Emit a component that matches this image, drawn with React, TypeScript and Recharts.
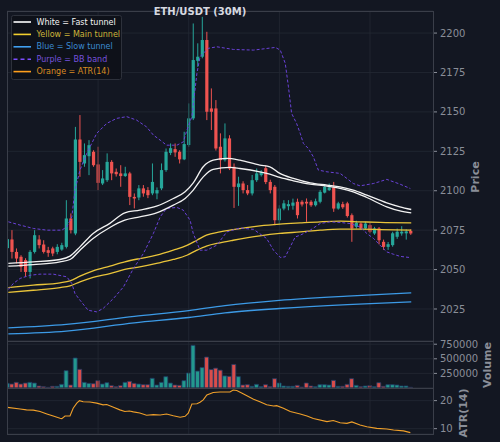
import React from 'react';
import { ComposedChart, Bar, Line, XAxis, YAxis, CartesianGrid, ReferenceLine, Cell } from 'recharts';

// candle data (30m ETH/USDT)
const opens = [
  2063.6, 2069.1, 2061.2, 2058.1, 2056.0, 2048.5, 2061.2, 2069.1, 2065.9, 2062.3,
  2063.4, 2061.2, 2062.7, 2064.4, 2082.4, 2072.9, 2132.5, 2117.3, 2121.9, 2124.7,
  2116.7, 2104.6, 2106.7, 2118.3, 2112.0, 2111.0, 2109.3, 2111.0, 2096.1, 2095.7,
  2101.5, 2100.4, 2098.3, 2098.3, 2101.5, 2113.1, 2124.0, 2126.4, 2124.7, 2119.9,
  2129.0, 2145.9, 2182.4, 2185.0, 2195.6, 2152.2, 2152.2, 2127.9, 2119.4, 2133.2,
  2115.2, 2102.3, 2104.6, 2100.4, 2098.3, 2106.7, 2109.9, 2114.3, 2105.6, 2102.5,
  2081.3, 2088.7, 2090.2, 2090.5, 2093.0, 2093.0, 2093.0, 2093.0, 2090.8, 2093.0,
  2098.8, 2100.4, 2102.1, 2088.7, 2091.5, 2092.0, 2084.5, 2077.1, 2079.2, 2076.1,
  2078.2, 2072.9, 2076.1, 2067.6, 2064.4, 2065.5, 2070.8, 2072.9, 2073.0, 2074.5,
];
const highs = [
  2073.1, 2075.0, 2063.4, 2059.1, 2057.2, 2062.3, 2075.0, 2071.8, 2068.6, 2064.4,
  2064.5, 2066.1, 2067.0, 2094.0, 2085.6, 2140.5, 2148.0, 2130.0, 2132.1, 2125.7,
  2127.9, 2113.1, 2123.7, 2119.4, 2114.1, 2116.2, 2115.2, 2112.0, 2098.3, 2103.6,
  2103.6, 2102.3, 2117.3, 2102.1, 2117.3, 2126.8, 2130.0, 2130.0, 2125.7, 2137.4,
  2155.4, 2206.1, 2193.5, 2210.3, 2200.8, 2164.9, 2157.5, 2136.4, 2142.7, 2135.2,
  2117.3, 2108.9, 2106.0, 2103.6, 2110.0, 2114.1, 2113.1, 2116.2, 2107.0, 2103.6,
  2090.8, 2094.0, 2094.0, 2095.0, 2095.0, 2094.0, 2095.1, 2094.0, 2095.0, 2100.4,
  2103.6, 2104.6, 2105.6, 2093.0, 2093.0, 2093.0, 2085.6, 2081.0, 2080.0, 2080.3,
  2079.5, 2077.1, 2077.0, 2069.0, 2067.5, 2074.0, 2076.0, 2077.5, 2075.5, 2075.5,
];
const lows = [
  2060.4, 2057.0, 2053.9, 2048.5, 2045.4, 2044.4, 2060.2, 2063.4, 2060.2, 2058.1,
  2058.5, 2059.7, 2061.9, 2063.4, 2072.9, 2071.8, 2108.8, 2115.2, 2109.9, 2115.2,
  2100.4, 2103.6, 2105.6, 2106.7, 2109.0, 2102.5, 2108.8, 2090.9, 2088.8, 2094.0,
  2096.2, 2095.3, 2097.2, 2094.6, 2100.4, 2112.0, 2122.6, 2121.5, 2117.3, 2119.4,
  2127.9, 2144.8, 2178.6, 2184.0, 2144.8, 2138.5, 2125.5, 2111.0, 2118.5, 2113.1,
  2089.1, 2090.4, 2098.3, 2097.2, 2097.0, 2105.6, 2109.0, 2104.2, 2098.3, 2078.2,
  2078.2, 2087.6, 2087.6, 2088.0, 2082.4, 2090.0, 2080.3, 2089.8, 2090.0, 2092.0,
  2098.3, 2099.8, 2086.6, 2088.0, 2088.5, 2083.0, 2067.6, 2076.0, 2075.5, 2075.5,
  2073.0, 2072.0, 2066.0, 2062.5, 2062.5, 2064.5, 2069.5, 2071.5, 2069.0, 2072.0,
];
const closes = [
  2069.3, 2061.2, 2057.0, 2051.7, 2048.5, 2061.2, 2071.8, 2065.5, 2061.2, 2060.6,
  2060.2, 2064.4, 2065.5, 2082.4, 2075.0, 2132.5, 2118.3, 2122.6, 2128.9, 2116.2,
  2105.0, 2107.8, 2118.3, 2111.0, 2110.5, 2109.3, 2111.0, 2096.1, 2095.1, 2101.5,
  2098.3, 2097.2, 2105.6, 2100.4, 2113.1, 2124.7, 2127.0, 2124.3, 2119.9, 2129.6,
  2145.9, 2182.9, 2185.0, 2195.6, 2150.1, 2150.1, 2126.8, 2119.4, 2133.2, 2114.1,
  2102.5, 2104.6, 2100.4, 2098.3, 2106.7, 2111.0, 2112.0, 2105.5, 2100.4, 2081.3,
  2088.7, 2092.0, 2091.5, 2092.5, 2084.5, 2091.3, 2091.9, 2090.8, 2093.3, 2099.3,
  2102.5, 2102.1, 2088.7, 2092.0, 2089.5, 2084.0, 2076.1, 2079.7, 2076.1, 2079.2,
  2074.0, 2076.1, 2068.6, 2064.4, 2066.1, 2073.0, 2074.0, 2074.0, 2074.2, 2072.9,
];
const volumes = [
  80000, 68000, 97000, 68000, 85000, 97000, 85000, 34000, 23000, 12000,
  29000, 29000, 63000, 297000, 51000, 514000, 320000, 97000, 80000, 74000,
  126000, 68000, 91000, 40000, 23000, 40000, 97000, 114000, 80000, 68000,
  57000, 57000, 166000, 51000, 97000, 194000, 85000, 51000, 46000, 126000,
  257000, 730000, 290000, 350000, 530000, 316000, 340000, 306000, 207000, 200000,
  404000, 195000, 51000, 57000, 29000, 63000, 23000, 57000, 23000, 160000,
  86000, 34000, 29000, 29000, 46000, 17000, 86000, 34000, 23000, 57000,
  57000, 51000, 131000, 29000, 29000, 63000, 160000, 46000, 23000, 34000,
  40000, 23000, 91000, 29000, 57000, 57000, 51000, 34000, 34000, 12000,
];

// indicator lines as [candle index, value]
const fastUpper = [
  [0.2, 2053.9], [5.7, 2054.9], [11.6, 2056.4], [13.8, 2058.5], [16, 2064.4], [18.9, 2072.9],
  [22.6, 2079.3], [25.9, 2086.0], [29.2, 2087.7], [32.9, 2090.2], [36.6, 2095.1], [39.2, 2099.3],
  [41, 2105.0], [43.2, 2115.2], [45.4, 2119.4], [48.4, 2120.5], [51.3, 2119.4], [55.7, 2116.2],
  [57.9, 2115.2], [60.1, 2111.0], [63.1, 2107.8], [66.8, 2105.0], [70.5, 2103.6], [73.4, 2102.5],
  [76.3, 2100.4], [79.3, 2097.2], [83.7, 2092.3], [86.6, 2089.8], [89.1, 2088.1],
];
const fastLower = [
  [0.2, 2052.2], [5.7, 2053.2], [11.6, 2054.9], [13.8, 2056.4], [16, 2062.3], [18.9, 2069.7],
  [22.6, 2076.7], [25.9, 2081.3], [29.2, 2083.4], [32.9, 2086.0], [36.6, 2090.9], [39.2, 2095.1],
  [41, 2100.4], [43.2, 2108.8], [45.4, 2113.5], [49.1, 2114.8], [51.3, 2114.1], [55.7, 2112.0],
  [57.9, 2110.5], [60.1, 2108.4], [63.1, 2106.3], [66.8, 2104.2], [70.5, 2102.9], [73.4, 2101.5],
  [76.3, 2099.3], [79.3, 2095.7], [83.7, 2089.8], [86.6, 2087.2], [89.1, 2086.0],
];
const mainUpper = [
  [0.2, 2038.6], [5.7, 2040.1], [11.6, 2041.6], [13.8, 2042.8], [16, 2045.8], [18.9, 2049.2],
  [22.6, 2052.2], [25.9, 2054.9], [29.2, 2057.0], [32.9, 2059.1], [36.6, 2062.3], [39.6, 2065.3],
  [41.8, 2068.6], [43.9, 2071.8], [46.9, 2073.9], [49.8, 2075.4], [55.7, 2077.7], [60.1, 2078.8],
  [64.6, 2079.6], [69, 2080.3], [73.4, 2080.7], [77.8, 2080.3], [82.2, 2079.9], [89.1, 2079.6],
];
const mainLower = [
  [0.2, 2035.5], [5.7, 2036.9], [11.6, 2038.6], [13.8, 2039.7], [16, 2042.2], [18.9, 2045.0],
  [22.6, 2047.5], [25.9, 2050.1], [29.2, 2051.7], [32.9, 2053.9], [36.6, 2056.4], [39.6, 2059.1],
  [41.8, 2062.3], [43.9, 2064.9], [46.9, 2067.0], [49.8, 2068.6], [55.7, 2071.4], [60.1, 2072.9],
  [64.6, 2073.9], [69, 2075.0], [73.4, 2075.6], [77.8, 2075.6], [82.2, 2075.4], [89.1, 2075.0],
];
const slowUpper = [
  [0.2, 2013.0], [13, 2015.2], [28, 2020.3], [40, 2024.0], [48, 2027.2], [60, 2030.5], [75, 2033.2], [89.1, 2035.2],
];
const slowLower = [
  [0.2, 2009.2], [13, 2011.0], [28, 2016.2], [40, 2019.6], [48, 2022.5], [60, 2025.3], [75, 2027.8], [89.1, 2029.5],
];
const bbUpper = [
  [0.2, 2080.3], [2.8, 2078.2], [5.7, 2076.1], [8.7, 2075.0], [12, 2075.0], [13.1, 2077.1], [14.2, 2083.4],
  [14.9, 2100.4], [16, 2113.1], [17.5, 2123.7], [19.7, 2136.4], [21.9, 2142.7], [24.1, 2145.9], [26.3, 2147.0],
  [28.5, 2144.8], [30.7, 2140.5], [32.2, 2135.3], [33.7, 2132.1], [35.1, 2128.9], [37.4, 2128.9], [38.8, 2131.0],
  [39.6, 2138.4], [40.7, 2147.0], [41.8, 2174.4], [42.5, 2185.0], [44.3, 2190.3], [46.2, 2191.3], [49.9, 2189.6],
  [54.3, 2189.2], [59.1, 2190.9], [60.2, 2189.2], [61.3, 2180.8], [62, 2165.9], [62.7, 2149.1], [63.8, 2142.7],
  [64.6, 2136.4], [65.3, 2130.0], [66.4, 2126.8], [67.5, 2121.5], [68.6, 2113.1], [70.5, 2112.0], [73.4, 2111.0],
  [74.9, 2107.8], [76.3, 2104.6], [77.8, 2103.1], [80.8, 2104.6], [83.7, 2107.2], [86.6, 2104.2], [88.9, 2101.4],
];
const bbLower = [
  [0.2, 2037.4], [1.3, 2041.2], [2.8, 2044.4], [5, 2046.4], [7.2, 2047.1], [10.1, 2047.1], [13.1, 2045.4],
  [14.2, 2041.2], [14.9, 2034.8], [16, 2030.6], [17.8, 2024.2], [19.7, 2023.2], [21.1, 2025.3], [23.4, 2031.7],
  [25.6, 2039.0], [27.8, 2050.7], [30, 2060.2], [32.2, 2072.9], [33.7, 2083.4], [35.1, 2088.8], [37.4, 2089.4],
  [38.8, 2087.7], [40.3, 2081.3], [41, 2072.9], [42.5, 2062.3], [44, 2062.3], [46.2, 2065.5], [48.4, 2073.9],
  [51.3, 2076.4], [54.3, 2075.5], [57.2, 2069.7], [58.7, 2062.3], [60.2, 2057.7], [61.3, 2058.1], [62.4, 2064.4],
  [63.5, 2070.7], [64.6, 2071.8], [66.8, 2075.0], [69, 2079.2], [71.2, 2080.3], [73.4, 2079.9], [75.6, 2079.2],
  [77.8, 2077.1], [79.3, 2072.9], [80.8, 2069.7], [82.2, 2065.5], [83.7, 2061.2], [85.2, 2059.7], [86.6, 2058.4],
  [88.9, 2057.6],
];
const atr = [
  [0, 17.6], [2.8, 17.0], [4.2, 16.7], [5.7, 16.6], [7.2, 16.1], [8.7, 15.25], [10.1, 14.5], [11.6, 13.7],
  [12, 13.6], [12.7, 14.5], [13.8, 14.5], [14.5, 17.3], [15.3, 19.1], [15.9, 20.0], [16.7, 19.6], [18.2, 19.5],
  [19.7, 19.1], [21.1, 18.5], [21.9, 18.6], [23.4, 17.6], [24.8, 16.7], [25.9, 16.1], [26.9, 16.3], [27.8, 16.0],
  [29.2, 15.6], [30.7, 14.8], [32.2, 15.0], [33.7, 14.9], [35.1, 15.25], [36.6, 14.6], [38.1, 14.1], [39.2, 14.4],
  [39.9, 15.5], [40.7, 18.8], [41.8, 18.9], [42.5, 19.4], [43.2, 20.25], [44, 22.0], [45.4, 22.9], [46.9, 23.1],
  [49.1, 23.1], [49.8, 23.8], [50.6, 23.6], [52.1, 22.4], [54.3, 20.5], [55.7, 19.6], [57.2, 18.5], [58.7, 18.1],
  [59.4, 18.2], [60.9, 17.3], [62.4, 16.1], [64.6, 15.25], [66.1, 14.5], [67.5, 13.6], [70.5, 12.5], [71.9, 12.9],
  [73.4, 12.1], [74.9, 11.9], [76, 12.4], [77.8, 11.3], [79.3, 10.7], [81.5, 10.1], [83.7, 9.9], [85.2, 9.5],
  [87.4, 9.2], [88.9, 8.6],
];

const priceTicks = [2025, 2050, 2075, 2100, 2125, 2150, 2175, 2200];
const volumeTicks = [250000, 500000, 750000];
const atrTicks = [10, 20];
const timeGrid = [20, 40, 60, 80];

const BG = '#131722';
const GRID = '#232834';
const SPINE = '#3a3e49';
const TICK = '#8a8e98';
const UP = '#26a69a';
const DOWN = '#ef5350';
const FONT = 'DejaVu Sans';

const candles = opens.map((o, i) => ({
  i,
  o,
  h: highs[i],
  l: lows[i],
  c: closes[i],
  range: [lows[i], highs[i]],
  v: volumes[i],
}));
const toSeries = (pts: number[][]) => pts.map(([i, v]) => ({ i, v }));

const xDomain = [-0.1, 93.9];

function Candle(props: any) {
  const { x, y, width, height, payload } = props;
  if (!payload) return null;
  const { o, h, l, c } = payload;
  const top = Math.min(y, y + height);
  const bottom = Math.max(y, y + height);
  const ppu = (bottom - top) / (h - l || 1);
  const cx = x + width / 2;
  const yo = top + (h - o) * ppu;
  const yc = top + (h - c) * ppu;
  const color = c >= o ? UP : DOWN;
  const bodyTop = Math.min(yo, yc);
  const bodyH = Math.max(1, Math.abs(yo - yc));
  return (
    <g>
      <line x1={cx} x2={cx} y1={top} y2={bottom} stroke={color} strokeWidth={1} />
      <rect x={cx - 1.6} y={bodyTop} width={3.2} height={bodyH} fill={color} />
    </g>
  );
}

const yAxisProps = {
  orientation: 'right' as const,
  width: 60,
  axisLine: false,
  tickLine: { stroke: TICK },
  tickSize: 4,
  tickMargin: 3,
  tick: { fill: TICK, fontSize: 10, fontFamily: FONT },
  interval: 0 as const,
};

const legendRows = [
  { label: 'White = Fast tunnel', line: '#ffffff', text: '#f4f4f4', dash: undefined },
  { label: 'Yellow = Main tunnel', line: '#f2cf2e', text: '#cdb53a', dash: undefined },
  { label: 'Blue = Slow tunnel', line: '#41a0f0', text: '#3b8ad0', dash: undefined },
  { label: 'Purple = BB band', line: '#7c4dff', text: '#7652de', dash: '4 3' },
  { label: 'Orange = ATR(14)', line: '#ff9f1c', text: '#d98c22', dash: undefined },
];

export default function App() {
  const lineStyle = { dot: false, activeDot: false, isAnimationActive: false } as const;
  return (
    <div
      style={{
        position: 'absolute',
        left: 0,
        top: 0,
        width: 500,
        height: 442,
        background: BG,
        overflow: 'hidden',
        fontFamily: FONT,
      }}
    >
      {/* price panel */}
      <div style={{ position: 'absolute', left: 0, top: 0 }}>
        <ComposedChart width={500} height={345} data={candles} margin={{ top: 11, right: 7, bottom: 4, left: 7 }}>
          <CartesianGrid vertical={false} stroke={GRID} strokeWidth={0.8} />
          {timeGrid.map((g) => (
            <ReferenceLine key={g} x={g} stroke={GRID} strokeWidth={0.8} />
          ))}
          <XAxis dataKey="i" type="number" domain={xDomain} allowDataOverflow hide />
          <YAxis {...yAxisProps} domain={[2004.7, 2214]} ticks={priceTicks} allowDataOverflow />
          <Line data={toSeries(slowUpper)} dataKey="v" type="monotone" stroke="#3c9ae6" strokeWidth={1.3} {...lineStyle} />
          <Line data={toSeries(slowLower)} dataKey="v" type="monotone" stroke="#3c9ae6" strokeWidth={1.3} {...lineStyle} />
          <Line data={toSeries(mainUpper)} dataKey="v" type="monotone" stroke="#e9c43a" strokeWidth={1.3} {...lineStyle} />
          <Line data={toSeries(mainLower)} dataKey="v" type="monotone" stroke="#e9c43a" strokeWidth={1.3} {...lineStyle} />
          <Line data={toSeries(bbUpper)} dataKey="v" type="linear" stroke="#6a42d8" strokeWidth={1} strokeDasharray="3 2" {...lineStyle} />
          <Line data={toSeries(bbLower)} dataKey="v" type="linear" stroke="#6a42d8" strokeWidth={1} strokeDasharray="3 2" {...lineStyle} />
          <Bar dataKey="range" barSize={4} shape={<Candle />} isAnimationActive={false} />
          <Line data={toSeries(fastUpper)} dataKey="v" type="monotone" stroke="#f2f2f2" strokeWidth={1.3} {...lineStyle} />
          <Line data={toSeries(fastLower)} dataKey="v" type="monotone" stroke="#f2f2f2" strokeWidth={1.3} {...lineStyle} />
        </ComposedChart>
      </div>

      {/* volume panel */}
      <div style={{ position: 'absolute', left: 0, top: 331 }}>
        <ComposedChart width={500} height={67} data={candles} margin={{ top: 10, right: 7, bottom: 10, left: 7 }}>
          <CartesianGrid vertical={false} stroke={GRID} strokeWidth={0.8} />
          {timeGrid.map((g) => (
            <ReferenceLine key={g} x={g} stroke={GRID} strokeWidth={0.8} />
          ))}
          <XAxis dataKey="i" type="number" domain={xDomain} allowDataOverflow hide />
          <YAxis {...yAxisProps} domain={[0, 805000]} ticks={volumeTicks} allowDataOverflow />
          <Bar dataKey="v" barSize={4} stroke="#1f3b63" strokeWidth={0.8} isAnimationActive={false}>
            {candles.map((d) => (
              <Cell key={d.i} fill={d.c >= d.o ? UP : DOWN} fillOpacity={0.9} />
            ))}
          </Bar>
        </ComposedChart>
      </div>

      {/* ATR panel */}
      <div style={{ position: 'absolute', left: 0, top: 378 }}>
        <ComposedChart width={500} height={66} margin={{ top: 10, right: 7, bottom: 10, left: 7 }}>
          <CartesianGrid vertical={false} stroke={GRID} strokeWidth={0.8} />
          {timeGrid.map((g) => (
            <ReferenceLine key={g} x={g} stroke={GRID} strokeWidth={0.8} />
          ))}
          <XAxis dataKey="i" type="number" domain={xDomain} allowDataOverflow hide />
          <YAxis {...yAxisProps} domain={[8.1, 24.5]} ticks={atrTicks} allowDataOverflow />
          <Line data={toSeries(atr)} dataKey="v" type="linear" stroke="#f0a02a" strokeWidth={1.1} {...lineStyle} />
        </ComposedChart>
      </div>

      {/* frames, title, axis labels, legend */}
      <svg width={500} height={442} style={{ position: 'absolute', left: 0, top: 0, pointerEvents: 'none' }}>
        <rect x={7.5} y={11.5} width={426} height={330} fill="none" stroke={SPINE} strokeWidth={1} />
        <rect x={7.5} y={341.5} width={426} height={47} fill="none" stroke={SPINE} strokeWidth={1} />
        <rect x={7.5} y={388.5} width={426} height={46} fill="none" stroke={SPINE} strokeWidth={1} />

        <text x={200} y={11} textAnchor="middle" dominantBaseline="central" fontFamily={FONT} fontSize={10} fontWeight="bold" fill="#d6d9e0">
          ETH/USDT (30M)
        </text>

        <text transform="translate(475.5,177) rotate(-90)" textAnchor="middle" dominantBaseline="central" fontFamily={FONT} fontSize={11} fontWeight="bold" fill={TICK}>
          Price
        </text>
        <text transform="translate(487,365) rotate(-90)" textAnchor="middle" dominantBaseline="central" fontFamily={FONT} fontSize={11} fontWeight="bold" fill={TICK}>
          Volume
        </text>
        <text transform="translate(463,413) rotate(-90)" textAnchor="middle" dominantBaseline="central" fontFamily={FONT} fontSize={11} fontWeight="bold" fill={TICK}>
          ATR(14)
        </text>

        <rect x={11.5} y={15.5} width={110} height={64} rx={2} fill="#0e1118" fillOpacity={0.9} stroke="#2d313b" strokeWidth={1} />
        {legendRows.map((r, k) => {
          const y = 22 + k * 12.4;
          return (
            <g key={r.label}>
              <line x1={13.5} x2={31} y1={y} y2={y} stroke={r.line} strokeWidth={1.6} strokeDasharray={r.dash} />
              <text x={36.5} y={y} dominantBaseline="central" fontFamily={FONT} fontSize={8} fill={r.text}>
                {r.label}
              </text>
            </g>
          );
        })}
      </svg>
    </div>
  );
}
